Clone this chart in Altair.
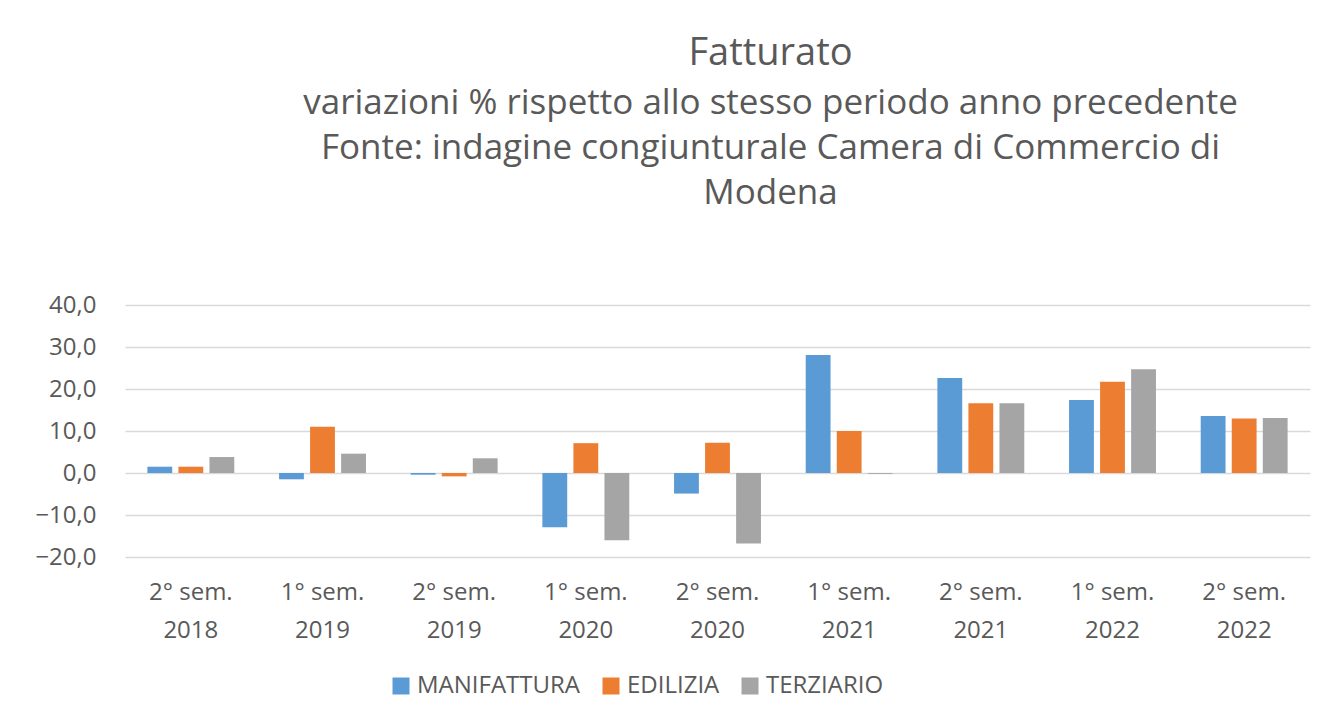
import altair as alt
import pandas as pd

categories = ["2° sem.|2018", "1° sem.|2019", "2° sem.|2019", "1° sem.|2020", "2° sem.|2020",
              "1° sem.|2021", "2° sem.|2021", "1° sem.|2022", "2° sem.|2022"]
series = ["MANIFATTURA", "EDILIZIA", "TERZIARIO"]
manifattura = [1.5, -1.5, -0.4, -12.9, -4.9, 28.1, 22.6, 17.4, 13.6]
edilizia = [1.5, 11.0, -0.8, 7.1, 7.2, 10.0, 16.6, 21.7, 13.0]
terziario = [3.8, 4.6, 3.5, -16.0, -16.8, -0.2, 16.6, 24.7, 13.1]
colors = ["#5B9BD5", "#ED7D31", "#A5A5A5"]

rows = []
for name, vals in zip(series, [manifattura, edilizia, terziario]):
    for c, v in zip(categories, vals):
        rows.append({"periodo": c, "serie": name, "valore": v})
df = pd.DataFrame(rows)

FONT = "Open Sans"
TXT = "#595959"

chart = alt.Chart(df).mark_bar().encode(
    x=alt.X("periodo:N", sort=categories, title=None,
            scale=alt.Scale(paddingInner=0.34, paddingOuter=0.17),
            axis=alt.Axis(labelExpr="split(datum.value, '|')", labelAngle=0,
                          labelFont=FONT, labelFontSize=24, labelColor=TXT,
                          labelLineHeight=38, labelPadding=23, ticks=False,
                          domain=False, grid=False)),
    xOffset=alt.XOffset("serie:N", sort=series, scale=alt.Scale(paddingInner=0.2)),
    y=alt.Y("valore:Q", title=None,
            scale=alt.Scale(domain=[-20, 40], nice=False),
            axis=alt.Axis(values=[-20, -10, 0, 10, 20, 30, 40],
                          labelExpr="replace(format(datum.value, '.1f'), '.', ',')",
                          labelFont=FONT, labelFontSize=24, labelColor=TXT,
                          labelPadding=29, ticks=False, domain=False,
                          gridColor="#D9D9D9", gridWidth=1.5)),
    color=alt.Color("serie:N", sort=series,
                    scale=alt.Scale(domain=series, range=colors),
                    legend=alt.Legend(title=None, orient="none", direction="horizontal",
                                      legendX=264, legendY=369,
                                      symbolType="square", symbolSize=289,
                                      symbolStrokeWidth=0, labelOffset=4, labelLimit=0,
                                      labelFont=FONT, labelFontSize=24, labelColor=TXT,
                                      columnPadding=18)),
).properties(
    width=1185, height=252,
    title=alt.TitleParams(
        text="Fatturato",
        subtitle=["variazioni % rispetto allo stesso periodo anno precedente",
                  "Fonte: indagine congiunturale Camera di Commercio di",
                  "Modena"],
        font=FONT, fontSize=38, fontWeight="normal", color=TXT,
        subtitleFont=FONT, subtitleFontSize=35, subtitleColor=TXT,
        subtitleLineHeight=45, subtitlePadding=13,
        anchor="middle", dx=53, offset=82),
    autosize=alt.AutoSizeParams(type="none"),
    padding={"left": 117, "top": 297, "right": 21, "bottom": 150},
).configure_view(stroke=None)

chart.save("out.html", embed_options={"renderer": "svg", "actions": False})
